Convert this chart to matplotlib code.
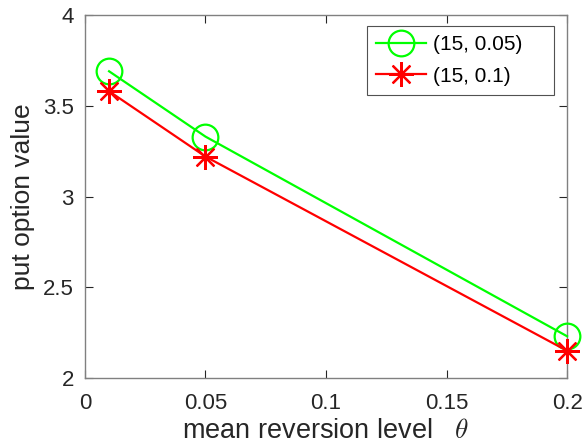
import matplotlib
matplotlib.use("Agg")
import matplotlib.pyplot as plt

theta = [0.01, 0.05, 0.2]
put_a = [3.69, 3.33, 2.23]   # (15, 0.05)
put_b = [3.58, 3.22, 2.15]   # (15, 0.1)
labels = ["(15, 0.05)", "(15, 0.1)"]

plt.rcParams['font.family'] = ['Liberation Sans', 'DejaVu Sans']
plt.rcParams['mathtext.fontset'] = 'cm'

fig = plt.figure(figsize=(5.84, 4.47), dpi=100)
ax = fig.add_axes([0.1455, 0.1544, 0.8255, 0.812])

ax.plot(theta, put_a, color='#00ff00', lw=1.6, marker='o', ms=18.5,
        mfc='none', mew=1.6, label=labels[0], clip_on=False, zorder=3)
ax.plot(theta, put_b, color='#ff0000', lw=1.6, marker=(8, 2, 0), ms=18,
        mew=1.6, label=labels[1], clip_on=False, zorder=4)

ax.set_xlim(0, 0.2)
ax.set_ylim(2, 4)
ax.set_xticks([0, 0.05, 0.1, 0.15, 0.2])
ax.set_xticklabels(['0', '0.05', '0.1', '0.15', '0.2'])
ax.set_yticks([2, 2.5, 3, 3.5, 4])
ax.set_yticklabels(['2', '2.5', '3', '3.5', '4'])

for s in ax.spines.values():
    s.set_color('#808080')
    s.set_linewidth(1.0)
ax.tick_params(direction='in', top=True, right=True, length=6, width=0.8,
               color='#262626', labelsize=16, labelcolor='#262626')
ax.tick_params(axis='x', pad=11)
ax.tick_params(axis='y', pad=8)

ax.set_xlabel('mean reversion level   $\\theta$', fontsize=19.5,
              color='#262626', labelpad=3)
ax.set_ylabel('put option value', fontsize=19, color='#262626', labelpad=6)

# legend box stretched to the reference's width
leg = ax.legend(loc='upper left', bbox_to_anchor=(0.585, 0.777, 0.388, 0.193),
                mode='expand', fontsize=15, frameon=True, fancybox=False,
                handlelength=2.4, borderpad=0.45, labelspacing=0.6,
                handletextpad=0.3, borderaxespad=0)
leg.get_frame().set_edgecolor('#262626')
leg.get_frame().set_linewidth(0.8)

fig.savefig('out.png', dpi=100)
